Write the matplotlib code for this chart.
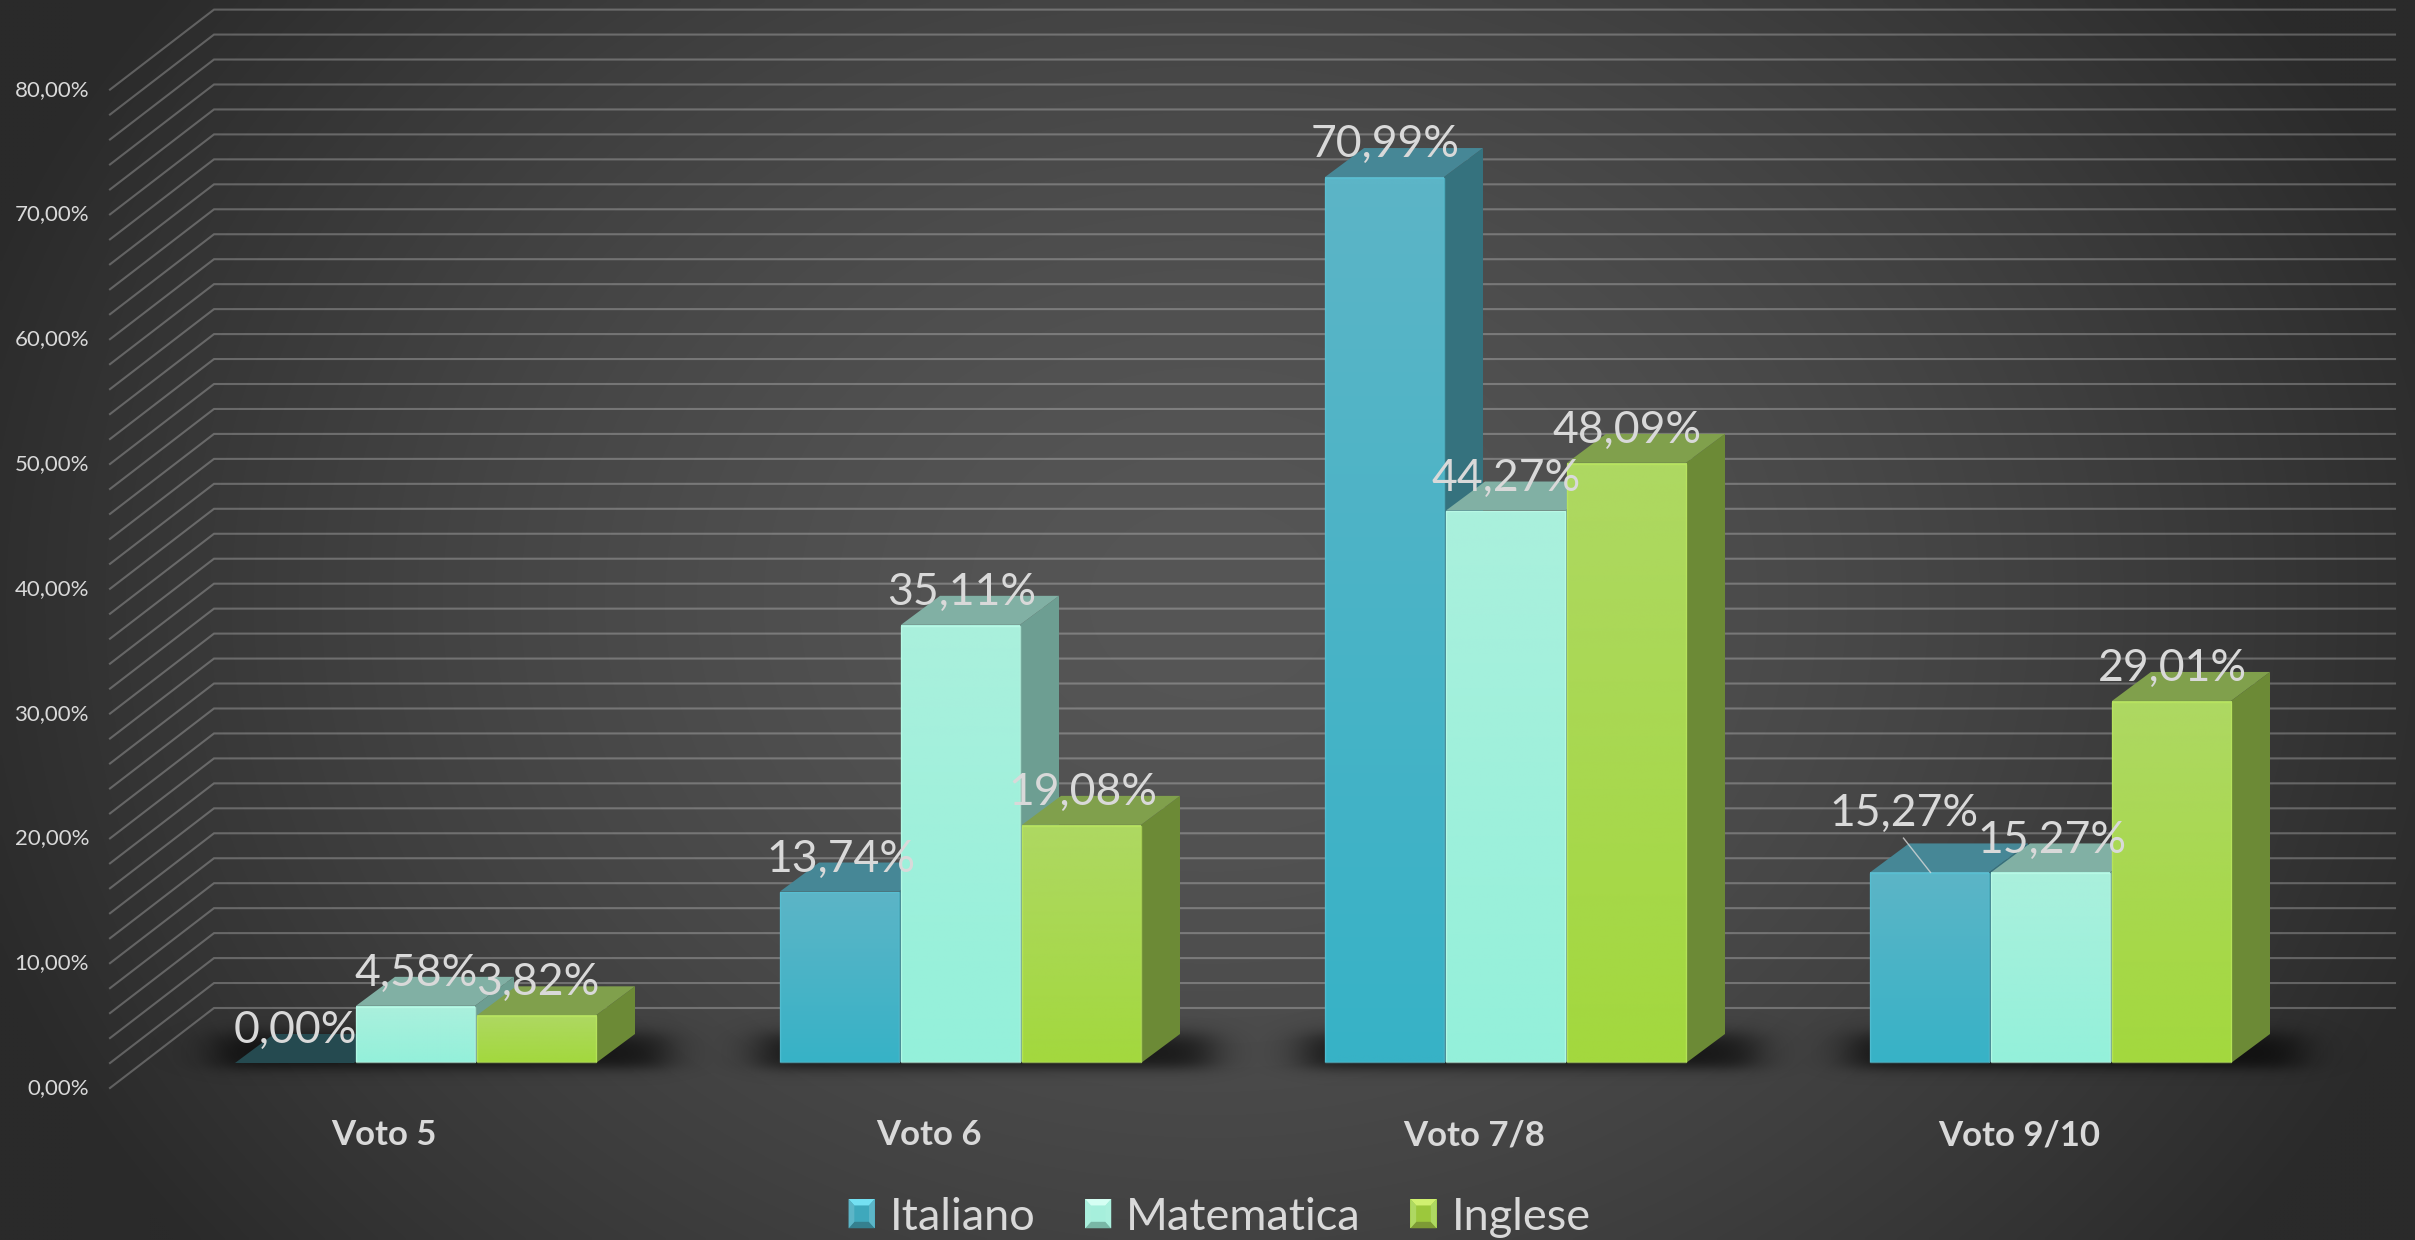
import numpy as np
import matplotlib
matplotlib.use("Agg")
import matplotlib.pyplot as plt
from matplotlib.legend_handler import HandlerBase
from matplotlib.patches import Polygon, Rectangle

categories = ["Voto 5", "Voto 6", "Voto 7/8", "Voto 9/10"]
series_names = ["Italiano", "Matematica", "Inglese"]
italiano = [0.00, 13.74, 70.99, 15.27]
matematica = [4.58, 35.11, 44.27, 15.27]
inglese = [3.82, 19.08, 48.09, 29.01]
y_ticks = [0, 10, 20, 30, 40, 50, 60, 70, 80]
grid_levels = np.arange(0, 82, 2)

# top of front face, bottom of front face, side, top face
colors_front_top = ["#5cb5c7", "#aaf0dd", "#aed862"]
colors_front_bottom = ["#37b2c6", "#94f0da", "#a3d83e"]
colors_side = ["#35727e", "#6d9e92", "#6c8a36"]
colors_top = ["#468796", "#81b0a4", "#80a04c"]
colors_edge = ["#57c3d6", "#bdfde9", "#bce85f"]
# legend key faces
key_center = ["#3fa8bc", "#a6efdc", "#9cc83c"]
key_top = ["#74e0f2", "#d5fff3", "#d0f070"]
key_bottom = ["#35808f", "#79b7a6", "#7d9a35"]
text_color = "#d9d9d9"

W, H = 2415, 1240
PX_Y = 12.48    # pixels for 1 %
PX_X = 545.0    # pixels for 1 category
BASE_PX = 1063
FIRST_PX = 416.5
bar_w = 121 / PX_X
depth_x = 39 / PX_X
depth_y = 29 / PX_Y
wall_front_x = (110 - FIRST_PX) / PX_X
wall_back_x = (214 - FIRST_PX) / PX_X
wall_end_x = (2395 - FIRST_PX) / PX_X
wall_front_y = -25 / PX_Y
wall_back_y = 55 / PX_Y

x_min, x_max = -FIRST_PX / PX_X, (W - FIRST_PX) / PX_X
y_min, y_max = -(H - BASE_PX) / PX_Y, BASE_PX / PX_Y


def hex_rgb(c):
    return np.array(matplotlib.colors.to_rgb(c))


def fade(u, width):
    return 0.5 * (1 + np.tanh(u / width))


class BevelHandler(HandlerBase):
    def __init__(self, idx):
        super().__init__()
        self.idx = idx

    def create_artists(self, legend, orig_handle, xdescent, ydescent, width, height, fontsize, trans):
        x0, y0 = -xdescent, -ydescent
        x1, y1 = x0 + width, y0 + height
        m = width * 0.22
        n = height * 0.22
        c = self.idx
        faces = [
            ([(x0, y0), (x1, y0), (x1, y1), (x0, y1)], key_center[c]),
            ([(x0, y1), (x1, y1), (x1 - m, y1 - n), (x0 + m, y1 - n)], key_top[c]),
            ([(x0, y0), (x1, y0), (x1 - m, y0 + n), (x0 + m, y0 + n)], key_bottom[c]),
            ([(x0, y0), (x0 + m, y0 + n), (x0 + m, y1 - n), (x0, y1)], colors_front_top[c]),
            ([(x1, y0), (x1 - m, y0 + n), (x1 - m, y1 - n), (x1, y1)], colors_front_top[c]),
        ]
        return [Polygon(p, closed=True, facecolor=col, edgecolor="none", transform=trans) for p, col in faces]


plt.rcParams["font.family"] = ["Lato", "DejaVu Sans"]
fig = plt.figure(figsize=(W / 100, H / 100), dpi=100)
ax = fig.add_axes([0, 0, 1, 1])
ax.axis("off")
extent = [x_min, x_max, y_min, y_max]

# background glow
px, py = np.meshgrid(np.arange(0, W, 4), np.arange(0, H, 4))
r = np.sqrt(((px - 1210) / 1300) ** 2 + ((py - 600) / 1050) ** 2)
bg = (42 + 44 * (1 - np.clip(r, 0, 1) ** 1.6)) / 255
ax.imshow(np.dstack([bg, bg, bg]), extent=extent, aspect="auto", zorder=0, interpolation="bilinear")

# wall and back lines
for v in grid_levels:
    ax.plot([wall_front_x, wall_back_x, wall_end_x], [v + wall_front_y, v + wall_back_y, v + wall_back_y],
            color="white", alpha=0.25, lw=1.5, solid_joinstyle="miter", zorder=1)

# floor shadow under each group
shadow = np.zeros(px.shape)
for i in range(len(categories)):
    left = FIRST_PX + i * PX_X - 1.5 * bar_w * PX_X
    right = left + 3 * bar_w * PX_X + 39
    sx = fade(px - left + 22, 26) * fade(right + 28 - px, 26)
    sy = fade(py - 1032, 10) * fade(1066 - py, 7)
    shadow = np.maximum(shadow, sx * sy)
rgba = np.zeros(px.shape + (4,))
rgba[..., 3] = shadow * 0.66
ax.imshow(rgba, extent=extent, aspect="auto", zorder=2, interpolation="bilinear")

# bars
series = [italiano, matematica, inglese]
for s, values in enumerate(series):
    for i, v in enumerate(values):
        x0 = i + (s - 1.5) * bar_w
        x1 = x0 + bar_w - 2 / PX_X
        z = 3 + s * 0.1
        top_col = "#254a50" if v == 0 else colors_top[s]
        ax.add_patch(Polygon([(x1, 0), (x1 + depth_x, depth_y), (x1 + depth_x, v + depth_y), (x1, v)],
                             closed=True, facecolor=colors_side[s], edgecolor="none", zorder=z))
        ax.add_patch(Polygon([(x0, v), (x0 + depth_x, v + depth_y), (x1 + depth_x, v + depth_y), (x1, v)],
                             closed=True, facecolor=top_col, edgecolor="none", zorder=z + 0.01))
        if v == 0:
            continue
        t = np.linspace(0, 1, 64).reshape(-1, 1, 1)
        grad = hex_rgb(colors_front_top[s]) * (1 - t) + hex_rgb(colors_front_bottom[s]) * t
        ax.imshow(grad, extent=[x0, x1, 0.06, v - 0.06], aspect="auto", zorder=z + 0.02, interpolation="bilinear")
        ax.add_patch(Rectangle((x0, 0.06), x1 - x0, v - 0.12, fill=False, edgecolor=colors_edge[s], lw=1.0,
                               alpha=0.7, zorder=z + 0.03))

# data labels
label_shift = {(0, 3): (-27 / PX_X, 27 / PX_Y)}
for s, values in enumerate(series):
    for i, v in enumerate(values):
        xc = i + (s - 1) * bar_w
        dx, dy = label_shift.get((s, i), (0, 0))
        ax.text(xc + dx, v + 2.6 + dy, f"{v:.2f}%".replace(".", ","), color=text_color, fontsize=32,
                ha="center", va="center", zorder=6)
        if (s, i) in label_shift:
            ax.plot([xc + dx, xc], [v + 2.75, v], color=text_color, lw=1, alpha=0.8, zorder=6)

# value labels and category labels
for v in y_ticks:
    ax.text(wall_front_x - 21 / PX_X, v + wall_front_y, f"{v:.2f}%".replace(".", ","), color=text_color,
            fontsize=16, ha="right", va="center", zorder=6)
for i, name in enumerate(categories):
    ax.text(i - 32.5 / PX_X, -5.8, name, color=text_color, fontsize=25, fontweight="bold",
            ha="center", va="center", zorder=6)

handles = [Rectangle((0, 0), 1, 1) for _ in series_names]
leg = fig.legend(handles, series_names, loc="lower center", bbox_to_anchor=(0.505, 0.002), ncol=3,
                 frameon=False, fontsize=32.5, labelcolor=text_color, borderpad=0, borderaxespad=0,
                 handlelength=0.58, handleheight=0.62, handletextpad=0.33, columnspacing=1.1,
                 handler_map={h: BevelHandler(k) for k, h in enumerate(handles)})

ax.set_xlim(x_min, x_max)
ax.set_ylim(y_min, y_max)
fig.savefig("out.png", dpi=100)
